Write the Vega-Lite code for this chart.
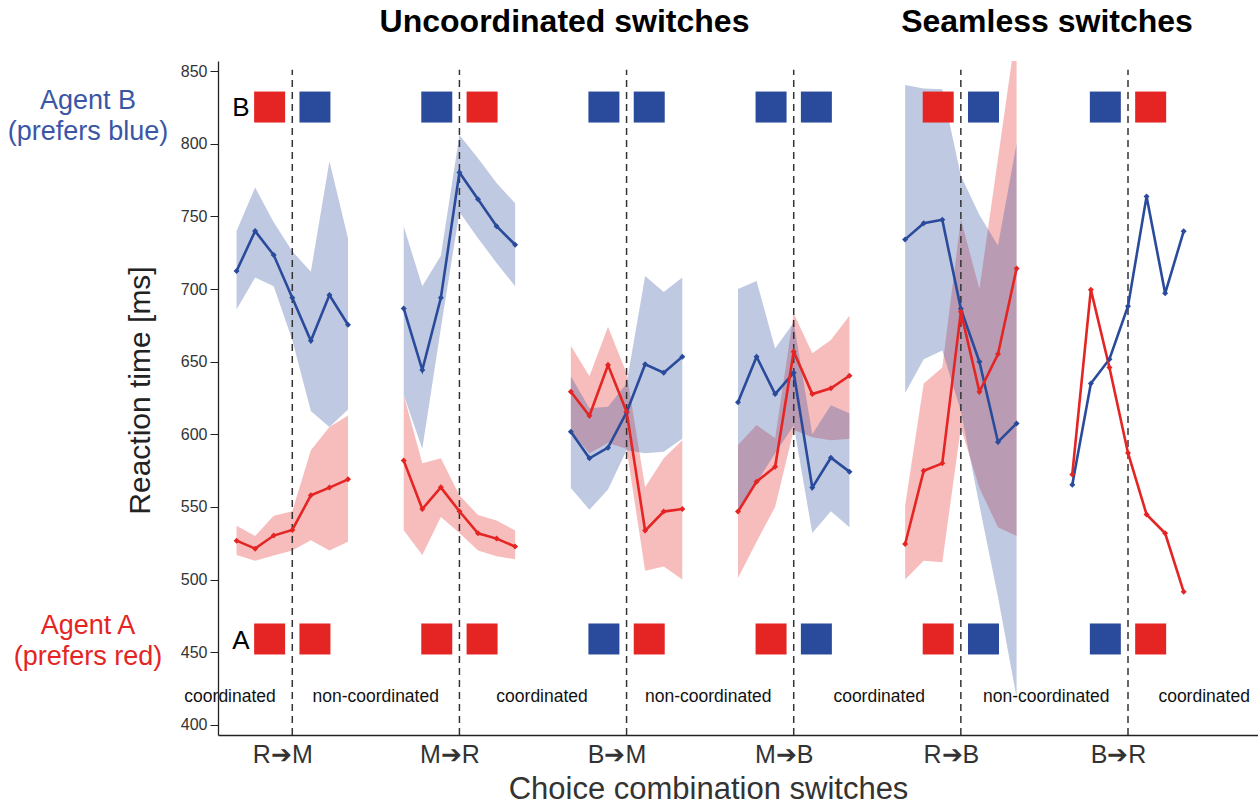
{
  "$schema": "https://vega.github.io/schema/vega-lite/v6.json",
  "width": 1040,
  "height": 674,
  "autosize": {"type": "none"},
  "padding": {"left": 218, "top": 61, "right": 0, "bottom": 72},
  "background": "white",
  "config": {
    "view": {"stroke": null},
    "font": "Liberation Sans",
    "axis": {"grid": false}
  },
  "datasets": {
    "series": [
      {"seg": "B1", "agent": "B", "x": -3, "rt": 712.4, "lo": 686, "hi": 740},
      {"seg": "B1", "agent": "B", "x": -2, "rt": 739.9, "lo": 708, "hi": 770},
      {"seg": "B1", "agent": "B", "x": -1, "rt": 723.4, "lo": 702, "hi": 746},
      {"seg": "B1", "agent": "B", "x": 0, "rt": 694, "lo": 665, "hi": 726},
      {"seg": "B1", "agent": "B", "x": 1, "rt": 664.4, "lo": 616, "hi": 712},
      {"seg": "B1", "agent": "B", "x": 2, "rt": 695.9, "lo": 605, "hi": 788},
      {"seg": "B1", "agent": "B", "x": 3, "rt": 675.4, "lo": 617, "hi": 735},
      {"seg": "A1", "agent": "A", "x": -3, "rt": 526.8, "lo": 517, "hi": 537},
      {"seg": "A1", "agent": "A", "x": -2, "rt": 521.3, "lo": 513, "hi": 530},
      {"seg": "A1", "agent": "A", "x": -1, "rt": 530.3, "lo": 516.5, "hi": 544},
      {"seg": "A1", "agent": "A", "x": 0, "rt": 534.2, "lo": 520, "hi": 547},
      {"seg": "A1", "agent": "A", "x": 1, "rt": 558, "lo": 527, "hi": 589},
      {"seg": "A1", "agent": "A", "x": 2, "rt": 563.3, "lo": 520, "hi": 605},
      {"seg": "A1", "agent": "A", "x": 3, "rt": 569, "lo": 526, "hi": 613},
      {"seg": "B2", "agent": "B", "x": 6, "rt": 686.7, "lo": 627, "hi": 743},
      {"seg": "B2", "agent": "B", "x": 7, "rt": 644.3, "lo": 590, "hi": 702},
      {"seg": "B2", "agent": "B", "x": 8, "rt": 694, "lo": 673, "hi": 723},
      {"seg": "B2", "agent": "B", "x": 9, "rt": 780.3, "lo": 753, "hi": 806},
      {"seg": "B2", "agent": "B", "x": 10, "rt": 761.9, "lo": 735, "hi": 790},
      {"seg": "B2", "agent": "B", "x": 11, "rt": 743.3, "lo": 718, "hi": 773},
      {"seg": "B2", "agent": "B", "x": 12, "rt": 730.5, "lo": 702, "hi": 759},
      {"seg": "A2", "agent": "A", "x": 6, "rt": 581.9, "lo": 534, "hi": 627},
      {"seg": "A2", "agent": "A", "x": 7, "rt": 548.6, "lo": 517, "hi": 580},
      {"seg": "A2", "agent": "A", "x": 8, "rt": 563.5, "lo": 543, "hi": 583.5},
      {"seg": "A2", "agent": "A", "x": 9, "rt": 547, "lo": 532, "hi": 558},
      {"seg": "A2", "agent": "A", "x": 10, "rt": 531.9, "lo": 520, "hi": 544.5},
      {"seg": "A2", "agent": "A", "x": 11, "rt": 528.2, "lo": 516, "hi": 540.6},
      {"seg": "A2", "agent": "A", "x": 12, "rt": 522.7, "lo": 514, "hi": 533.7},
      {"seg": "B3", "agent": "B", "x": 15, "rt": 601.8, "lo": 563, "hi": 640},
      {"seg": "B3", "agent": "B", "x": 16, "rt": 583.5, "lo": 548, "hi": 618},
      {"seg": "B3", "agent": "B", "x": 17, "rt": 590.8, "lo": 562, "hi": 619},
      {"seg": "B3", "agent": "B", "x": 18, "rt": 615.1, "lo": 589, "hi": 635},
      {"seg": "B3", "agent": "B", "x": 19, "rt": 648.2, "lo": 587, "hi": 709},
      {"seg": "B3", "agent": "B", "x": 20, "rt": 642.4, "lo": 588, "hi": 698},
      {"seg": "B3", "agent": "B", "x": 21, "rt": 653.4, "lo": 597, "hi": 708},
      {"seg": "A3", "agent": "A", "x": 15, "rt": 629.3, "lo": 602, "hi": 661},
      {"seg": "A3", "agent": "A", "x": 16, "rt": 612.8, "lo": 587, "hi": 640},
      {"seg": "A3", "agent": "A", "x": 17, "rt": 647.7, "lo": 594, "hi": 674},
      {"seg": "A3", "agent": "A", "x": 18, "rt": 615.6, "lo": 590, "hi": 642},
      {"seg": "A3", "agent": "A", "x": 19, "rt": 533.7, "lo": 506, "hi": 563.5},
      {"seg": "A3", "agent": "A", "x": 20, "rt": 546.8, "lo": 509, "hi": 583.5},
      {"seg": "A3", "agent": "A", "x": 21, "rt": 548.6, "lo": 500, "hi": 596},
      {"seg": "B4", "agent": "B", "x": 24, "rt": 622, "lo": 548, "hi": 700},
      {"seg": "B4", "agent": "B", "x": 25, "rt": 653.4, "lo": 567, "hi": 705.5},
      {"seg": "B4", "agent": "B", "x": 26, "rt": 627.7, "lo": 587, "hi": 659},
      {"seg": "B4", "agent": "B", "x": 27, "rt": 642.4, "lo": 606, "hi": 677},
      {"seg": "B4", "agent": "B", "x": 28, "rt": 563.3, "lo": 532, "hi": 600},
      {"seg": "B4", "agent": "B", "x": 29, "rt": 583.9, "lo": 547, "hi": 620},
      {"seg": "B4", "agent": "B", "x": 30, "rt": 574.3, "lo": 536, "hi": 614.5},
      {"seg": "A4", "agent": "A", "x": 24, "rt": 546.8, "lo": 501, "hi": 592.7},
      {"seg": "A4", "agent": "A", "x": 25, "rt": 567.4, "lo": 526, "hi": 606.4},
      {"seg": "A4", "agent": "A", "x": 26, "rt": 577.7, "lo": 550, "hi": 597.3},
      {"seg": "A4", "agent": "A", "x": 27, "rt": 656.9, "lo": 603, "hi": 683.3},
      {"seg": "A4", "agent": "A", "x": 28, "rt": 627.7, "lo": 598, "hi": 655.8},
      {"seg": "A4", "agent": "A", "x": 29, "rt": 631.7, "lo": 596, "hi": 664.9},
      {"seg": "A4", "agent": "A", "x": 30, "rt": 640.3, "lo": 597, "hi": 681.7},
      {"seg": "B5", "agent": "B", "x": 33, "rt": 734.2, "lo": 628.5, "hi": 840.5},
      {"seg": "B5", "agent": "B", "x": 34, "rt": 745.3, "lo": 651.7, "hi": 838},
      {"seg": "B5", "agent": "B", "x": 35, "rt": 747.7, "lo": 657.7, "hi": 837.5},
      {"seg": "B5", "agent": "B", "x": 36, "rt": 686.4, "lo": 616, "hi": 778},
      {"seg": "B5", "agent": "B", "x": 37, "rt": 649.9, "lo": 551, "hi": 751},
      {"seg": "B5", "agent": "B", "x": 38, "rt": 594.7, "lo": 488, "hi": 730},
      {"seg": "B5", "agent": "B", "x": 39, "rt": 607.5, "lo": 419, "hi": 800},
      {"seg": "A5", "agent": "A", "x": 33, "rt": 524.5, "lo": 500, "hi": 551},
      {"seg": "A5", "agent": "A", "x": 34, "rt": 574.9, "lo": 513, "hi": 635},
      {"seg": "A5", "agent": "A", "x": 35, "rt": 580, "lo": 512, "hi": 646},
      {"seg": "A5", "agent": "A", "x": 36, "rt": 684.3, "lo": 604.5, "hi": 748},
      {"seg": "A5", "agent": "A", "x": 37, "rt": 629.3, "lo": 563, "hi": 700},
      {"seg": "A5", "agent": "A", "x": 38, "rt": 655.3, "lo": 536, "hi": 790},
      {"seg": "A5", "agent": "A", "x": 39, "rt": 714.2, "lo": 530, "hi": 880},
      {"seg": "B6", "agent": "B", "x": 42, "rt": 565.3},
      {"seg": "B6", "agent": "B", "x": 43, "rt": 635},
      {"seg": "B6", "agent": "B", "x": 44, "rt": 651.7},
      {"seg": "B6", "agent": "B", "x": 45, "rt": 688.2},
      {"seg": "B6", "agent": "B", "x": 46, "rt": 763.8},
      {"seg": "B6", "agent": "B", "x": 47, "rt": 697.1},
      {"seg": "B6", "agent": "B", "x": 48, "rt": 739.8},
      {"seg": "A6", "agent": "A", "x": 42, "rt": 572.4},
      {"seg": "A6", "agent": "A", "x": 43, "rt": 699.6},
      {"seg": "A6", "agent": "A", "x": 44, "rt": 646},
      {"seg": "A6", "agent": "A", "x": 45, "rt": 587.2},
      {"seg": "A6", "agent": "A", "x": 46, "rt": 544.8},
      {"seg": "A6", "agent": "A", "x": 47, "rt": 531.9},
      {"seg": "A6", "agent": "A", "x": 48, "rt": 491.6}
    ],
    "switches": [
      {"x": 0}, {"x": 9}, {"x": 18}, {"x": 27}, {"x": 36}, {"x": 45}
    ],
    "choices": [
      {"row": "B", "x": -1.22, "y": 825.3, "c": "R"},
      {"row": "B", "x": 1.22, "y": 825.3, "c": "B"},
      {"row": "A", "x": -1.22, "y": 459.1, "c": "R"},
      {"row": "A", "x": 1.22, "y": 459.1, "c": "R"},
      {"row": "B", "x": 7.78, "y": 825.3, "c": "B"},
      {"row": "B", "x": 10.22, "y": 825.3, "c": "R"},
      {"row": "A", "x": 7.78, "y": 459.1, "c": "R"},
      {"row": "A", "x": 10.22, "y": 459.1, "c": "R"},
      {"row": "B", "x": 16.78, "y": 825.3, "c": "B"},
      {"row": "B", "x": 19.22, "y": 825.3, "c": "B"},
      {"row": "A", "x": 16.78, "y": 459.1, "c": "B"},
      {"row": "A", "x": 19.22, "y": 459.1, "c": "R"},
      {"row": "B", "x": 25.78, "y": 825.3, "c": "B"},
      {"row": "B", "x": 28.22, "y": 825.3, "c": "B"},
      {"row": "A", "x": 25.78, "y": 459.1, "c": "R"},
      {"row": "A", "x": 28.22, "y": 459.1, "c": "B"},
      {"row": "B", "x": 34.78, "y": 825.3, "c": "R"},
      {"row": "B", "x": 37.22, "y": 825.3, "c": "B"},
      {"row": "A", "x": 34.78, "y": 459.1, "c": "R"},
      {"row": "A", "x": 37.22, "y": 459.1, "c": "B"},
      {"row": "B", "x": 43.78, "y": 825.3, "c": "B"},
      {"row": "B", "x": 46.22, "y": 825.3, "c": "R"},
      {"row": "A", "x": 43.78, "y": 459.1, "c": "B"},
      {"row": "A", "x": 46.22, "y": 459.1, "c": "R"}
    ],
    "regions": [
      {"x": -3.35, "t": "coordinated"},
      {"x": 4.49, "t": "non-coordinated"},
      {"x": 13.45, "t": "coordinated"},
      {"x": 22.4, "t": "non-coordinated"},
      {"x": 31.6, "t": "coordinated"},
      {"x": 40.6, "t": "non-coordinated"},
      {"x": 49.1, "t": "coordinated"}
    ],
    "titles": [
      {"x": 14.66, "y": 883.8, "t": "Uncoordinated switches"},
      {"x": 40.64, "y": 883.8, "t": "Seamless switches"}
    ],
    "rowlabels": [
      {"x": -2.76, "y": 824.6, "t": "B"},
      {"x": -2.76, "y": 457.7, "t": "A"}
    ],
    "agents": [
      {"agent": "B", "x": -11.0, "y": 829.5, "t": "Agent B"},
      {"agent": "B", "x": -11.0, "y": 808.1, "t": "(prefers blue)"},
      {"agent": "A", "x": -11.0, "y": 468.3, "t": "Agent A"},
      {"agent": "A", "x": -11.0, "y": 446.9, "t": "(prefers red)"}
    ]
  },
  "layer": [
    {
      "data": {"name": "series"},
      "transform": [{"filter": "isValid(datum.lo) && datum.agent == 'A'"}],
      "mark": {"type": "area", "opacity": 0.3, "clip": true, "interpolate": "linear"},
      "encoding": {
        "x": {"field": "x", "type": "quantitative", "scale": {"domain": [-4, 52], "nice": false, "zero": false},
          "axis": {"values": [0, 9, 18, 27, 36, 45], "labelExpr": "['R➔M','M➔R','B➔M','M➔B','R➔B','B➔R'][round(datum.value/9)]",
            "ticks": false, "domainColor": "#222", "domainWidth": 1.3, "labelFontSize": 25, "labelColor": "#333",
            "labelPadding": 7, "labelOffset": -10,
            "title": "Choice combination switches", "titleFontSize": 31, "titleFontWeight": "normal", "titleColor": "#333",
            "titleX": 490, "titleY": 54, "titleBaseline": "middle", "titleAlign": "center"}},
        "y": {"field": "lo", "type": "quantitative", "scale": {"domain": [393, 857], "nice": false, "zero": false},
          "axis": {"values": [400, 450, 500, 550, 600, 650, 700, 750, 800, 850], "tickSize": 8, "tickColor": "#222",
            "domainColor": "#222", "domainWidth": 1.3, "labelFontSize": 16, "labelColor": "#333", "labelPadding": 3,
            "title": "Reaction time [ms]", "titleFontSize": 30, "titleFontWeight": "normal", "titleColor": "#222",
            "titleX": -78, "titleY": 329, "titleAngle": -90, "titleBaseline": "middle", "titleAlign": "center"}},
        "y2": {"field": "hi"},
        "detail": {"field": "seg"},
        "color": {"field": "agent", "type": "nominal", "scale": {"domain": ["A", "B"], "range": ["#E42524", "#2A4B9B"]}, "legend": null}
      }
    },
    {
      "data": {"name": "series"},
      "transform": [{"filter": "isValid(datum.lo) && datum.agent == 'B'"}],
      "mark": {"type": "area", "opacity": 0.3, "clip": true, "interpolate": "linear"},
      "encoding": {
        "x": {"field": "x", "type": "quantitative"},
        "y": {"field": "lo", "type": "quantitative"},
        "y2": {"field": "hi"},
        "detail": {"field": "seg"},
        "color": {"field": "agent", "type": "nominal", "legend": null}
      }
    },
    {
      "data": {"name": "switches"},
      "mark": {"type": "rule", "strokeDash": [7, 5], "strokeWidth": 1.5, "color": "#333"},
      "encoding": {
        "x": {"field": "x", "type": "quantitative"},
        "y": {"datum": 393},
        "y2": {"datum": 851}
      }
    },
    {
      "data": {"name": "series"},
      "mark": {"type": "line", "strokeWidth": 2.6},
      "encoding": {
        "x": {"field": "x", "type": "quantitative"},
        "y": {"field": "rt", "type": "quantitative"},
        "detail": {"field": "seg"},
        "color": {"field": "agent", "type": "nominal", "legend": null}
      }
    },
    {
      "data": {"name": "series"},
      "mark": {"type": "point", "shape": "diamond", "filled": true, "size": 36, "opacity": 1},
      "encoding": {
        "x": {"field": "x", "type": "quantitative"},
        "y": {"field": "rt", "type": "quantitative"},
        "color": {"field": "agent", "type": "nominal", "legend": null}
      }
    },
    {
      "data": {"name": "choices"},
      "mark": {"type": "square", "filled": true, "size": 961, "opacity": 1},
      "encoding": {
        "x": {"field": "x", "type": "quantitative"},
        "y": {"field": "y", "type": "quantitative"},
        "fill": {"field": "c", "type": "nominal", "scale": {"domain": ["R", "B"], "range": ["#E42524", "#2A4B9B"]}, "legend": null}
      }
    },
    {
      "data": {"name": "regions"},
      "mark": {"type": "text", "fontSize": 17.5, "color": "#111", "align": "center", "baseline": "middle"},
      "encoding": {
        "x": {"field": "x", "type": "quantitative"},
        "y": {"datum": 419.2},
        "text": {"field": "t"}
      }
    },
    {
      "data": {"name": "titles"},
      "mark": {"type": "text", "fontSize": 32, "fontWeight": "bold", "color": "#000", "align": "center", "baseline": "middle"},
      "encoding": {
        "x": {"field": "x", "type": "quantitative"},
        "y": {"field": "y", "type": "quantitative"},
        "text": {"field": "t"}
      }
    },
    {
      "data": {"name": "rowlabels"},
      "mark": {"type": "text", "fontSize": 26, "color": "#000", "align": "center", "baseline": "middle"},
      "encoding": {
        "x": {"field": "x", "type": "quantitative"},
        "y": {"field": "y", "type": "quantitative"},
        "text": {"field": "t"}
      }
    },
    {
      "data": {"name": "agents"},
      "mark": {"type": "text", "fontSize": 27, "align": "center", "baseline": "middle"},
      "encoding": {
        "x": {"field": "x", "type": "quantitative"},
        "y": {"field": "y", "type": "quantitative"},
        "text": {"field": "t"},
        "fill": {"field": "agent", "type": "nominal", "scale": {"domain": ["A", "B"], "range": ["#E42524", "#3A56A5"]}, "legend": null}
      }
    }
  ],
  "resolve": {"scale": {"fill": "independent"}}
}
